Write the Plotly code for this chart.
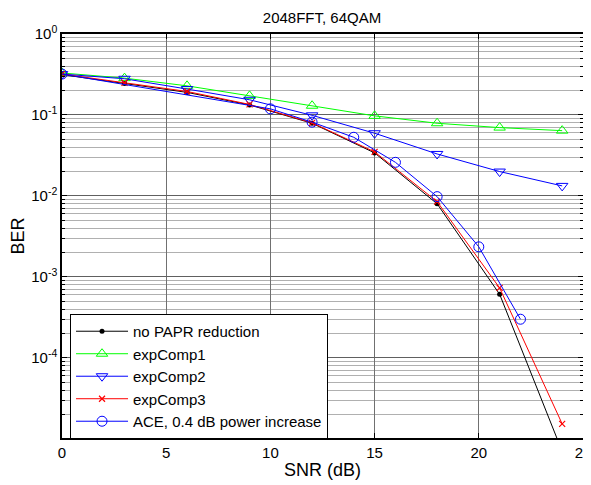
import plotly.graph_objects as go

snr = [0, 3, 6, 9, 12, 15, 18, 21, 24]
ber_none = [0.315, 0.245, 0.19, 0.133, 0.079, 0.034, 0.0080, 6.1e-4, 7.0e-6]
ber_exp1 = [0.33, 0.285, 0.229, 0.172, 0.130, 0.0975, 0.079, 0.0698, 0.064]
ber_exp2 = [0.32, 0.28, 0.209, 0.154, 0.099, 0.0595, 0.033, 0.020, 0.0133]
ber_exp3 = [0.32, 0.25, 0.195, 0.135, 0.080, 0.035, 0.0085, 7.3e-4, 1.53e-5]
snr_ace = [0, 10, 12, 14, 16, 18, 20, 22]
ber_ace = [0.32, 0.119, 0.0815, 0.053, 0.026, 0.0098, 0.00235, 3.0e-4]

ytick_vals = [1, 0.1, 0.01, 1e-3, 1e-4]
ytick_text = ["10<sup>0</sup>", "10<sup>-1</sup>", "10<sup>-2</sup>", "10<sup>-3</sup>", "10<sup>-4</sup>"]
xtick_vals = [0, 5, 10, 15, 20, 25]

fig = go.Figure()
fig.add_trace(go.Scatter(x=snr, y=ber_none, name="no PAPR reduction", mode="lines+markers",
                         line=dict(color="black", width=1),
                         marker=dict(symbol="circle", size=5, color="black")))
fig.add_trace(go.Scatter(x=snr, y=ber_exp1, name="expComp1", mode="lines+markers",
                         line=dict(color="#00ff00", width=1),
                         marker=dict(symbol="triangle-up-open", size=10, color="#00ff00", line=dict(width=1))))
fig.add_trace(go.Scatter(x=snr, y=ber_exp2, name="expComp2", mode="lines+markers",
                         line=dict(color="#0000ff", width=1),
                         marker=dict(symbol="triangle-down-open", size=10, color="#0000ff", line=dict(width=1))))
fig.add_trace(go.Scatter(x=snr, y=ber_exp3, name="expComp3", mode="lines+markers",
                         line=dict(color="#ff0000", width=1),
                         marker=dict(symbol="x-thin-open", size=6, color="#ff0000", line=dict(width=1.2, color="#ff0000"))))
fig.add_trace(go.Scatter(x=snr_ace, y=ber_ace, name="ACE, 0.4 dB power increase", mode="lines+markers",
                         line=dict(color="#0000ff", width=1),
                         marker=dict(symbol="circle-open", size=10, color="#0000ff", line=dict(width=1))))

font = dict(family="Liberation Sans, Arial, sans-serif", size=15, color="black")

# the page body has an 8px default margin, so the figure is 8px smaller and margins offset
W, H = 583, 477
fig.update_layout(
    width=W, height=H,
    margin=dict(l=54, r=8, t=26, b=47),
    paper_bgcolor="white", plot_bgcolor="white",
    font=font,
    title=dict(text="2048FFT, 64QAM", x=(322 - 8) / W, xanchor="center", y=1 - 10 / H, yanchor="middle",
               font=dict(size=15)),
    showlegend=True,
    legend=dict(x=0.0154, y=0.307, xanchor="left", yanchor="top",
                bgcolor="white", bordercolor="black", borderwidth=1,
                font=dict(size=15), tracegroupgap=0, itemwidth=52),
    xaxis=dict(range=[0, 25], tickvals=xtick_vals, showgrid=True, gridcolor="#707070", gridwidth=1,
               ticks="inside", ticklen=5, tickcolor="black", mirror="ticks",
               showline=True, linecolor="black", linewidth=1.5, zeroline=False, automargin=False,
               ticklabeloverflow="allow",
               title=dict(text="SNR (dB)", standoff=4), tickfont=dict(size=15)),
    yaxis=dict(type="log", range=[-4.99, 0], tickvals=ytick_vals, ticktext=ytick_text,
               showgrid=True, gridcolor="#606060", gridwidth=1,
               ticks="inside", ticklen=5, tickcolor="black", mirror="ticks",
               showline=True, linecolor="black", linewidth=1.5, zeroline=False, automargin=False,
               ticklabeloverflow="allow",
               minor=dict(dtick="D1", showgrid=True, gridcolor="#b0b0b0", gridwidth=1,
                          ticks="inside", ticklen=3, tickcolor="black"),
               title=dict(text="BER", standoff=6), tickfont=dict(size=15)),
)

fig.write_html("out.html")
